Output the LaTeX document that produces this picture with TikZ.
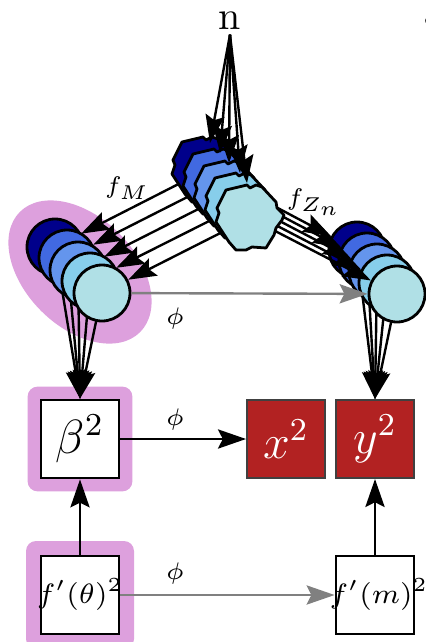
\documentclass[tikz,border=0pt]{standalone}
\usetikzlibrary{arrows.meta,fit,calc}
\definecolor{cA}{RGB}{0,0,139}
\definecolor{cB}{RGB}{65,105,225}
\definecolor{cC}{RGB}{100,149,237}
\definecolor{cD}{RGB}{135,206,235}
\definecolor{cE}{RGB}{176,224,230}
\definecolor{plumc}{RGB}{221,160,221}
\definecolor{firec}{RGB}{178,34,34}
\definecolor{arrgray}{RGB}{128,128,128}
\pgfdeclarelayer{pinkl}
\pgfdeclarelayer{backl}
\pgfdeclarelayer{midl}
\pgfdeclarelayer{polyl}
\pgfdeclarelayer{frontl}
\pgfsetlayers{pinkl,backl,main,midl,polyl,frontl}
\tikzset{
  circ/.style={circle, draw=black, line width=0.7pt, minimum size=14pt, inner sep=0pt},
  wbox/.style={draw=black, fill=white, line width=0.7pt, minimum size=19.5pt, inner sep=0pt},
  rbox/.style={draw=black!75, fill=firec, line width=0.5pt, minimum size=19.5pt, inner sep=0pt, text=white, font=\fontsize{12}{14}\selectfont},
  bigtxt/.style={font=\fontsize{12}{14}\selectfont},
  midtxt/.style={font=\fontsize{7}{8.4}\selectfont},
  lab/.style={font=\fontsize{6}{7}\selectfont, inner sep=0pt},
  conn/.style={line width=0.6pt, -{Stealth[length=7pt,width=4.8pt,inset=1.2pt]}},
  gconn/.style={conn, color=arrgray},
  pinkbg/.style={fill=plumc, rounded corners=2.5pt, inner sep=3pt},
  blob/.pic={\path[pic actions, draw=black, line width=0.7pt, line join=round]
    (-24,-28) -- (-3,-33) -- (0,-30) -- (6,-33) -- (12,-31) -- (26,-16) -- (27,-10)
    -- (34,-3) -- (32,2) -- (26,10) -- (24,17) -- (16,30) -- (2,29) -- (-4,32)
    -- (-14,32) -- (-21,24) -- (-34,4) -- (-31,-5) -- (-33,-10) -- cycle;}
}
\begin{document}
\begin{tikzpicture}[x=0.25pt, y=-0.25pt]
\useasboundingbox (0,0) rectangle (426,642);

% circles
\node[circ, fill=cA] (L1) at (55,247) {};
\node[circ, fill=cB] (L2) at (67,258) {};
\node[circ, fill=cC] (L3) at (78,270) {};
\node[circ, fill=cD] (L4) at (90,281) {};
\node[circ, fill=cE] (L5) at (102,293) {};
\node[circ, fill=cA] (R1) at (357,250) {};
\node[circ, fill=cB] (R2) at (367,261) {};
\node[circ, fill=cC] (R3) at (377,272) {};
\node[circ, fill=cD] (R4) at (387,283) {};
\node[circ, fill=cE] (R5) at (397,294) {};

% boxes
\node[wbox, bigtxt] (beta) at (80,439) {$\beta^2$};
\node[rbox] (xx) at (286,439) {$x^2$};
\node[rbox] (yy) at (375,439) {$y^2$};
\node[wbox, midtxt] (ft) at (80,595) {\makebox[0pt]{$f'(\theta)^2$}};
\node[wbox, midtxt] (fm) at (375,595) {\makebox[0pt]{\hspace{2pt}$f'(m)^2$}};

% polygon centres
\coordinate (P1) at (206,170);
\coordinate (P2) at (217,182);
\coordinate (P3) at (228,194);
\coordinate (P4) at (239,206);
\coordinate (P5) at (250,218);

% n
\node[font=\fontsize{10}{12}\selectfont, inner sep=1pt] (n) at (230,21) {n};
\coordinate (t1) at (210,143);
\coordinate (t2) at (220,153);
\coordinate (t3) at (229,163);
\coordinate (t4) at (240,173);
\coordinate (t5) at (247,183);

% labels
\node[lab] (fM) at (127,188) {$f_M$};
\node[lab] (fZ) at (314,202) {$f_{Z_n}$};
\node[lab] (ph1) at (175,318) {$\phi$};
\node[lab] (ph2) at (175,419) {$\phi$};
\node[lab] (ph3) at (175,573) {$\phi$};

% clipped text at right edge
\node[anchor=base west, inner sep=0pt, font=\fontsize{5}{6}\selectfont] (tr1) at (423,25) {c};
\node[anchor=base west, inner sep=0pt, font=\fontsize{10}{12}\selectfont] (tr2) at (423,70) {[};
\node[anchor=base west, inner sep=0pt, font=\fontsize{5}{6}\selectfont] (tr3) at (423,105) {(};

% connectors between boxes
\draw[conn] (beta) -- (xx);
\draw[conn] (ft) -- (beta);
\draw[conn] (fm) -- (yy);
\draw[gconn] (ft) -- (fm);
\draw[gconn] (L5) -- (R5);

\begin{pgfonlayer}{pinkl}
  \fill[plumc, rotate around={-45:(80,272)}] (80,272) ellipse [x radius=85, y radius=55];
  \node[pinkbg, fit=(beta)] (pk1) {};
  \node[pinkbg, fit=(ft), inner sep=3.4pt] (pk2) {};
\end{pgfonlayer}

\begin{pgfonlayer}{backl}
  \foreach \i in {1,...,5} {
    \draw[conn] (L\i.center) -- (beta.north);
    \draw[conn] (R\i.center) -- (yy.north);
  }
\end{pgfonlayer}

\begin{pgfonlayer}{midl}
  \foreach \i in {1,...,5} {
    \draw[conn] (P\i) -- (L\i);
    \draw[conn] (P\i) -- (R\i);
  }
\end{pgfonlayer}

\begin{pgfonlayer}{polyl}
  \pic[fill=cA] at (P1) {blob};
  \pic[fill=cB] at (P2) {blob};
  \pic[fill=cC] at (P3) {blob};
  \pic[fill=cD] at (P4) {blob};
  \pic[fill=cE] at (P5) {blob};
\end{pgfonlayer}

\begin{pgfonlayer}{frontl}
  \foreach \i in {1,...,5} {
    \draw[conn] (n.south) -- (t\i);
  }
\end{pgfonlayer}
\end{tikzpicture}
\end{document}
